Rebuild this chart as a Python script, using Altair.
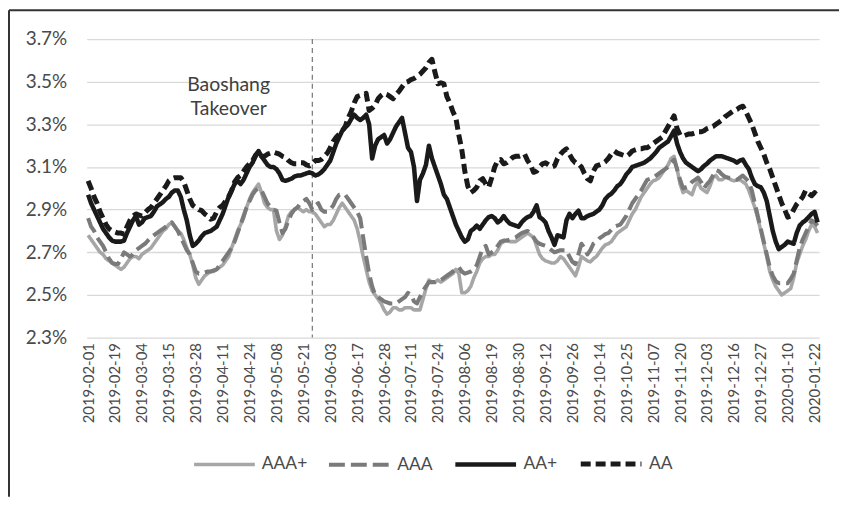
import altair as alt
import pandas as pd

# ---- calendar (China interbank working days) ----
holidays = ["2019-02-04", "2019-02-05", "2019-02-06", "2019-02-07", "2019-02-08",
            "2019-04-05", "2019-05-01", "2019-05-02", "2019-05-03", "2019-06-07",
            "2019-09-13", "2019-10-01", "2019-10-02", "2019-10-03", "2019-10-04",
            "2019-10-07", "2020-01-01"]
makeup_days = ["2019-02-02", "2019-02-03", "2019-04-28", "2019-05-05",
               "2019-09-29", "2019-10-12", "2020-01-19"]
weekdays = [d.strftime("%Y-%m-%d") for d in pd.bdate_range("2019-02-01", "2020-01-23")]
dates = sorted(set(d for d in weekdays if d not in holidays) | set(makeup_days))
label_dates = dates[::9]

series_names = ["AAA+", "AAA", "AA+", "AA"]
series_colors = ["#a6a6a6", "#7a7a7a", "#1a1a1a", "#1a1a1a"]
series_dash = [[1, 0], [16, 6], [1, 0], [10, 5]]
series_width = [3.6, 5, 5, 5]

aaa_plus = [
    2.78, 2.76, 2.74, 2.72, 2.70, 2.69, 2.67, 2.66, 2.65, 2.64,
    2.63, 2.62, 2.63, 2.65, 2.67, 2.68, 2.68, 2.67, 2.69, 2.70,
    2.71, 2.72, 2.74, 2.76, 2.78, 2.80, 2.81, 2.83, 2.84, 2.82,
    2.80, 2.79, 2.76, 2.72, 2.69, 2.64, 2.58, 2.55, 2.57, 2.59,
    2.60, 2.61, 2.61, 2.62, 2.63, 2.64, 2.66, 2.68, 2.72, 2.76,
    2.80, 2.83, 2.86, 2.91, 2.95, 2.98, 3.00, 3.02, 2.98, 2.93,
    2.91, 2.90, 2.90, 2.80, 2.76, 2.78, 2.82, 2.87, 2.89, 2.90,
    2.91, 2.90, 2.89, 2.90, 2.89, 2.89, 2.88, 2.86, 2.84, 2.82,
    2.83, 2.83, 2.85, 2.88, 2.91, 2.93, 2.91, 2.89, 2.87, 2.85,
    2.81, 2.75, 2.68, 2.62, 2.56, 2.52, 2.50, 2.48, 2.46, 2.43,
    2.41, 2.42, 2.44, 2.44, 2.43, 2.43, 2.44, 2.44, 2.44, 2.43,
    2.43, 2.43, 2.48, 2.53, 2.57, 2.56, 2.56, 2.57, 2.56, 2.57,
    2.58, 2.59, 2.60, 2.62, 2.60, 2.51, 2.51, 2.52, 2.54, 2.58,
    2.61, 2.65, 2.67, 2.68, 2.68, 2.69, 2.69, 2.71, 2.74, 2.75,
    2.755, 2.75, 2.75, 2.75, 2.76, 2.77, 2.78, 2.79, 2.78, 2.77,
    2.73, 2.69, 2.67, 2.66, 2.655, 2.65, 2.65, 2.66, 2.68, 2.67,
    2.65, 2.63, 2.61, 2.59, 2.63, 2.68, 2.67, 2.66, 2.655, 2.67,
    2.68, 2.70, 2.72, 2.735, 2.74, 2.75, 2.77, 2.79, 2.80, 2.81,
    2.82, 2.85, 2.88, 2.90, 2.93, 2.96, 2.98, 3.00, 3.02, 3.035,
    3.04, 3.05, 3.07, 3.09, 3.11, 3.14, 3.15, 3.09, 3.02, 2.98,
    2.99, 2.98, 2.97, 3.01, 3.03, 3.00, 2.99, 2.98, 3.01, 3.05,
    3.06, 3.04, 3.04, 3.05, 3.05, 3.04, 3.035, 3.04, 3.04, 3.03,
    3.02, 2.99, 2.95, 2.91, 2.86, 2.80, 2.74, 2.68, 2.61, 2.57,
    2.54, 2.52, 2.50, 2.51, 2.52, 2.53, 2.58, 2.65, 2.69, 2.73,
    2.76, 2.80, 2.83, 2.82, 2.79,
]

aaa = [
    2.86, 2.82, 2.80, 2.77, 2.75, 2.73, 2.70, 2.67, 2.65, 2.645,
    2.645, 2.67, 2.70, 2.69, 2.68, 2.69, 2.71, 2.72, 2.73, 2.74,
    2.755, 2.77, 2.78, 2.79, 2.80, 2.81, 2.82, 2.83, 2.84, 2.82,
    2.80, 2.77, 2.74, 2.71, 2.69, 2.65, 2.61, 2.60, 2.60, 2.605,
    2.61, 2.61, 2.615, 2.62, 2.64, 2.66, 2.68, 2.70, 2.72, 2.75,
    2.79, 2.83, 2.87, 2.91, 2.94, 2.97, 2.99, 3.00, 2.99, 2.96,
    2.93, 2.91, 2.90, 2.895, 2.84, 2.79, 2.81, 2.85, 2.88, 2.90,
    2.91, 2.93, 2.94, 2.95, 2.93, 2.90, 2.92, 2.93, 2.90, 2.89,
    2.89, 2.90, 2.92, 2.95, 2.97, 2.97, 2.97, 2.95, 2.93, 2.91,
    2.89, 2.86, 2.77, 2.68, 2.60, 2.54, 2.50, 2.49, 2.48, 2.47,
    2.465, 2.46, 2.46, 2.46, 2.47, 2.48, 2.49, 2.51, 2.50, 2.47,
    2.46, 2.49, 2.52, 2.54, 2.56, 2.56, 2.56, 2.565, 2.57, 2.58,
    2.59, 2.60, 2.61, 2.62, 2.63, 2.61, 2.60, 2.605, 2.61, 2.62,
    2.64, 2.68, 2.72, 2.73, 2.69, 2.70, 2.71, 2.73, 2.75, 2.755,
    2.755, 2.76, 2.765, 2.77, 2.78, 2.79, 2.795, 2.80, 2.79, 2.77,
    2.75, 2.74, 2.735, 2.73, 2.72, 2.71, 2.70, 2.705, 2.71, 2.71,
    2.71, 2.68, 2.655, 2.645, 2.69, 2.74, 2.72, 2.69, 2.71, 2.74,
    2.75, 2.765, 2.775, 2.785, 2.79, 2.805, 2.82, 2.825, 2.83, 2.85,
    2.87, 2.90, 2.93, 2.95, 2.97, 2.99, 3.015, 3.04, 3.045, 3.05,
    3.06, 3.07, 3.08, 3.09, 3.10, 3.12, 3.135, 3.09, 3.04, 3.00,
    3.005, 3.01, 3.03, 3.04, 3.05, 3.03, 3.00, 3.02, 3.035, 3.06,
    3.085, 3.08, 3.065, 3.055, 3.05, 3.05, 3.045, 3.04, 3.05, 3.06,
    3.045, 3.03, 2.99, 2.93, 2.87, 2.81, 2.75, 2.69, 2.63, 2.59,
    2.565, 2.555, 2.555, 2.555, 2.555, 2.575, 2.60, 2.66, 2.72, 2.76,
    2.79, 2.82, 2.85, 2.84, 2.825,
]

aa_plus = [
    2.97, 2.93, 2.90, 2.87, 2.84, 2.81, 2.79, 2.77, 2.755, 2.75,
    2.75, 2.75, 2.755, 2.79, 2.82, 2.85, 2.87, 2.83, 2.84, 2.86,
    2.865, 2.87, 2.89, 2.915, 2.925, 2.935, 2.95, 2.96, 2.98, 2.99,
    2.99, 2.96, 2.90, 2.85, 2.78, 2.73, 2.74, 2.755, 2.775, 2.79,
    2.795, 2.80, 2.81, 2.82, 2.85, 2.88, 2.92, 2.96, 2.99, 3.02,
    3.035, 3.02, 3.04, 3.07, 3.10, 3.12, 3.15, 3.175, 3.15, 3.13,
    3.11, 3.10, 3.10, 3.09, 3.07, 3.04, 3.035, 3.04, 3.045, 3.055,
    3.06, 3.06, 3.065, 3.07, 3.075, 3.07, 3.06, 3.065, 3.075, 3.09,
    3.11, 3.13, 3.17, 3.21, 3.24, 3.27, 3.285, 3.30, 3.325, 3.345,
    3.33, 3.32, 3.33, 3.345, 3.30, 3.14, 3.20, 3.23, 3.24, 3.25,
    3.21, 3.23, 3.26, 3.29, 3.31, 3.33, 3.26, 3.19, 3.17, 3.10,
    2.94, 3.04, 3.07, 3.11, 3.20, 3.14, 3.10, 3.06, 3.02, 2.97,
    2.95, 2.91, 2.87, 2.83, 2.80, 2.77, 2.75, 2.76, 2.80, 2.81,
    2.825, 2.81, 2.83, 2.85, 2.865, 2.87, 2.86, 2.84, 2.85, 2.87,
    2.85, 2.835, 2.83, 2.825, 2.82, 2.84, 2.855, 2.865, 2.87, 2.89,
    2.92, 2.865, 2.855, 2.84, 2.80, 2.77, 2.735, 2.78, 2.775, 2.77,
    2.85, 2.88, 2.86, 2.88, 2.895, 2.86, 2.86, 2.87, 2.875, 2.88,
    2.89, 2.90, 2.92, 2.95, 2.965, 2.975, 2.99, 3.01, 3.02, 3.04,
    3.065, 3.08, 3.10, 3.105, 3.11, 3.115, 3.12, 3.13, 3.14, 3.155,
    3.17, 3.19, 3.20, 3.21, 3.22, 3.245, 3.27, 3.21, 3.17, 3.14,
    3.12, 3.11, 3.10, 3.09, 3.08, 3.09, 3.105, 3.115, 3.13, 3.14,
    3.15, 3.15, 3.15, 3.145, 3.14, 3.135, 3.13, 3.12, 3.13, 3.135,
    3.11, 3.09, 3.05, 3.02, 3.01, 3.005, 2.98, 2.94, 2.87, 2.80,
    2.75, 2.715, 2.725, 2.735, 2.75, 2.745, 2.74, 2.79, 2.825, 2.84,
    2.85, 2.865, 2.88, 2.89, 2.84,
]

aa = [
    3.035, 3.00, 2.96, 2.93, 2.89, 2.86, 2.83, 2.81, 2.80, 2.795,
    2.79, 2.79, 2.785, 2.82, 2.85, 2.87, 2.88, 2.875, 2.87, 2.885,
    2.90, 2.91, 2.93, 2.95, 2.97, 2.99, 3.01, 3.035, 3.045, 3.05,
    3.05, 3.05, 3.03, 2.99, 2.95, 2.92, 2.91, 2.90, 2.895, 2.88,
    2.87, 2.855, 2.86, 2.89, 2.91, 2.92, 2.94, 2.96, 2.99, 3.03,
    3.05, 3.06, 3.08, 3.10, 3.115, 3.13, 3.155, 3.17, 3.15, 3.15,
    3.16, 3.165, 3.17, 3.165, 3.16, 3.15, 3.145, 3.13, 3.12, 3.115,
    3.115, 3.12, 3.12, 3.11, 3.105, 3.115, 3.13, 3.13, 3.135, 3.15,
    3.165, 3.19, 3.22, 3.24, 3.255, 3.27, 3.29, 3.33, 3.36, 3.40,
    3.43, 3.435, 3.44, 3.445, 3.365, 3.375, 3.39, 3.42, 3.435, 3.445,
    3.44, 3.43, 3.42, 3.44, 3.455, 3.475, 3.495, 3.50, 3.51, 3.515,
    3.525, 3.535, 3.55, 3.565, 3.59, 3.605, 3.545, 3.49, 3.495, 3.49,
    3.43, 3.40, 3.36, 3.33, 3.25, 3.18, 3.08, 3.01, 2.98, 2.99,
    3.005, 3.035, 3.045, 3.02, 3.005, 3.05, 3.10, 3.13, 3.135, 3.115,
    3.12, 3.13, 3.145, 3.15, 3.15, 3.155, 3.16, 3.13, 3.11, 3.075,
    3.08, 3.10, 3.115, 3.12, 3.11, 3.10, 3.105, 3.14, 3.16, 3.175,
    3.185, 3.16, 3.135, 3.12, 3.115, 3.10, 3.07, 3.045, 3.035, 3.08,
    3.105, 3.11, 3.115, 3.125, 3.14, 3.16, 3.175, 3.165, 3.16, 3.155,
    3.15, 3.16, 3.175, 3.18, 3.185, 3.185, 3.19, 3.19, 3.20, 3.21,
    3.22, 3.23, 3.24, 3.265, 3.29, 3.315, 3.34, 3.28, 3.25, 3.245,
    3.25, 3.255, 3.255, 3.26, 3.265, 3.265, 3.27, 3.28, 3.285, 3.29,
    3.30, 3.31, 3.32, 3.335, 3.345, 3.355, 3.365, 3.37, 3.38, 3.385,
    3.36, 3.33, 3.30, 3.26, 3.22, 3.19, 3.16, 3.12, 3.09, 3.05,
    3.01, 2.97, 2.93, 2.90, 2.865, 2.87, 2.90, 2.925, 2.94, 2.96,
    2.99, 2.975, 2.965, 2.98, 2.96,
]

y_ticks = [2.3, 2.5, 2.7, 2.9, 3.1, 3.3, 3.5, 3.7]
event_date = ["2019-05-24"]
annotation_date = [dates[47]]
annotation_value = [3.485]
annotation_text = [["Baoshang", "Takeover"]]

rows = []
for name, vals in zip(series_names, [aaa_plus, aaa, aa_plus, aa]):
    n = min(len(vals), len(dates))
    for d, v in zip(dates[:n], vals[:n]):
        rows.append({"date": d, "series": name, "value": v})
df = pd.DataFrame(rows)

text_color = "#4a4a4a"
font = "Lato"

x_enc = alt.X(
    "date:O",
    scale=alt.Scale(type="point", padding=0.5, domain=dates),
    axis=alt.Axis(values=label_dates, labelAngle=-90, ticks=False, domain=False,
                  grid=False, labelPadding=5, labelFontSize=15, labelFont=font,
                  labelColor=text_color, labelOverlap=False, labelBound=False, title=None),
)
y_scale = alt.Scale(domain=[2.3, 3.7], nice=False, zero=False)
y_axis = alt.Axis(values=y_ticks, labelExpr="format(datum.value, '.1f') + '%'",
                  ticks=False, domain=False, grid=True, gridColor="#d9d9d9", gridWidth=1.3,
                  labelPadding=20, labelFontSize=19, labelFont=font, labelColor=text_color,
                  title=None)

legend = alt.Legend(orient="none", legendX=106, legendY=394, direction="horizontal",
                    symbolType="stroke", symbolSize=3721, labelOffset=5, columnPadding=13,
                    labelFontSize=17.5, labelFont=font, labelColor=text_color, title=None,
                    padding=0)

lines = alt.Chart(df).mark_line(strokeJoin="round").encode(
    x=x_enc,
    y=alt.Y("value:Q", scale=y_scale, axis=y_axis),
    color=alt.Color("series:N", scale=alt.Scale(domain=series_names, range=series_colors), legend=legend),
    strokeDash=alt.StrokeDash("series:N", scale=alt.Scale(domain=series_names, range=series_dash), legend=legend),
    strokeWidth=alt.StrokeWidth("series:N", scale=alt.Scale(domain=series_names, range=series_width), legend=legend),
)

event = alt.Chart(pd.DataFrame({"date": event_date})).mark_rule(
    color="#7f7f7f", strokeDash=[5, 4], strokeWidth=1.3
).encode(x=x_enc, y=alt.datum(3.7), y2=alt.datum(2.3))

note = alt.Chart(pd.DataFrame({"date": annotation_date, "value": annotation_value,
                               "text": annotation_text})).mark_text(
    fontSize=19.5, font=font, color="#404040", lineHeight=24, align="center", baseline="middle"
).encode(x=x_enc, y=alt.Y("value:Q", scale=y_scale, axis=y_axis), text="text")

frame_src = pd.DataFrame({"k": [0]})
frame_left = alt.Chart(frame_src).mark_rule(color="#333333", strokeWidth=2).encode(
    x=alt.value(-78), y=alt.value(-29), y2=alt.value(460))
frame_top = alt.Chart(frame_src).mark_rule(color="#333333", strokeWidth=2).encode(
    x=alt.value(-78), x2=alt.value(756), y=alt.value(-29))

chart = alt.layer(frame_left, frame_top, event, lines, note).properties(
    width=736, height=300,
    padding={"left": 79, "top": 30, "right": 20, "bottom": 160},
    autosize=alt.AutoSizeParams(type="none"),
).configure_view(stroke=None)

chart.save("out.html", embed_options={"renderer": "svg", "actions": False})
